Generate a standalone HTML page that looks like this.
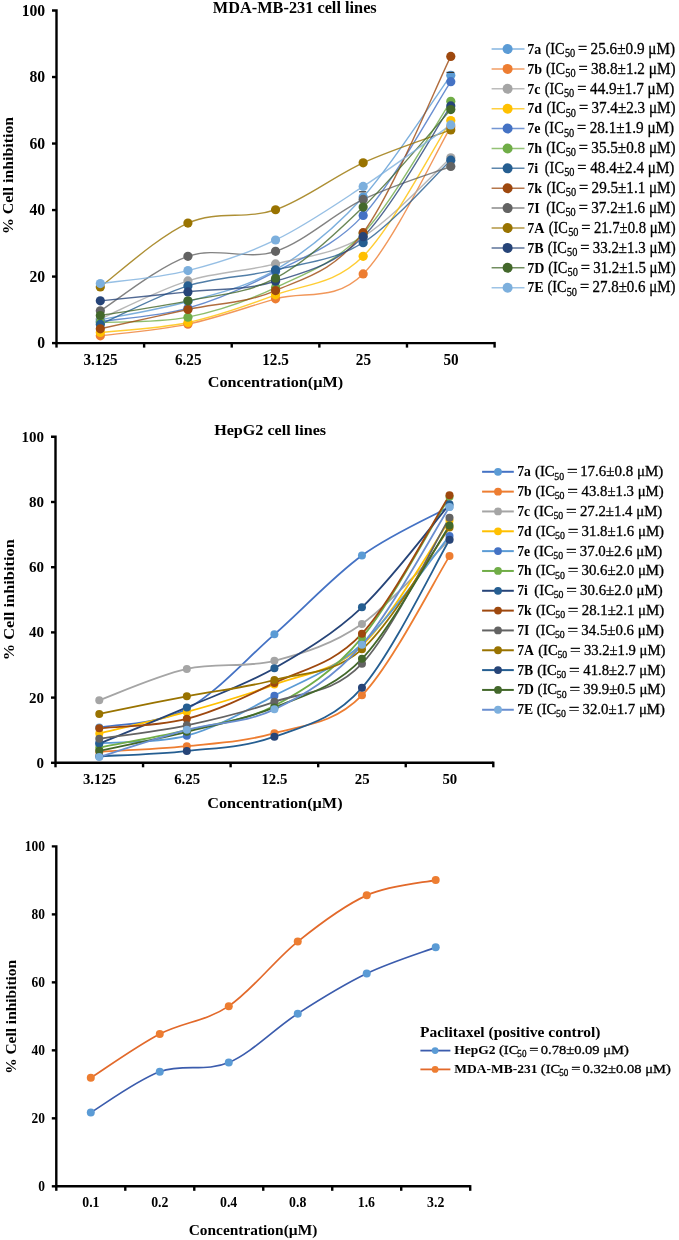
<!DOCTYPE html>
<html><head><meta charset="utf-8"><style>
html,body{margin:0;padding:0;background:#fff;}
body{width:679px;height:1240px;overflow:hidden;}
svg{display:block;will-change:transform;}
text{font-family:"Liberation Serif",serif;fill:#000;}
.b{font-weight:bold;}
.r{font-weight:normal;stroke:#000;stroke-width:0.3px;}
</style></head><body>
<svg width="679" height="1240" viewBox="0 0 679 1240">
<rect width="679" height="1240" fill="#fff"/>
<text transform="translate(212.84,12.60) scale(1.0323,1)" class="b" font-size="15.80">MDA-MB-231 cell lines</text>
<g stroke="#000" stroke-width="2.4" fill="none">
<path d="M52.00,10.50 H56.50 V343.10 H494.60"/>
<path d="M52.00,276.58 H56.50"/>
<path d="M52.00,210.06 H56.50"/>
<path d="M52.00,143.54 H56.50"/>
<path d="M52.00,77.02 H56.50"/>
<path d="M52.00,343.10 H56.50"/>
<path d="M56.50,343.10 V347.60"/>
<path d="M144.12,343.10 V347.60"/>
<path d="M231.74,343.10 V347.60"/>
<path d="M319.36,343.10 V347.60"/>
<path d="M406.98,343.10 V347.60"/>
<path d="M494.60,341.90 V347.60"/>
</g>
<text x="37.35" y="348.30" class="b" font-size="15.70">0</text>
<text x="29.50" y="281.78" class="b" font-size="15.70">20</text>
<text x="29.50" y="215.26" class="b" font-size="15.70">40</text>
<text x="29.50" y="148.74" class="b" font-size="15.70">60</text>
<text x="29.50" y="82.22" class="b" font-size="15.70">80</text>
<text x="21.65" y="15.70" class="b" font-size="15.70">100</text>
<text transform="translate(83.49,364.60) scale(0.9500,1)" class="b" font-size="16.00">3.125</text>
<text transform="translate(174.95,364.60) scale(0.9500,1)" class="b" font-size="16.00">6.25</text>
<text transform="translate(262.22,364.60) scale(0.9500,1)" class="b" font-size="16.00">12.5</text>
<text transform="translate(355.82,364.60) scale(0.9500,1)" class="b" font-size="16.00">25</text>
<text transform="translate(443.47,364.60) scale(0.9500,1)" class="b" font-size="16.00">50</text>
<text transform="translate(207.72,387.40) scale(1.0547,1)" class="b" font-size="15.40">Concentration(µM)</text>
<text transform="translate(13.30,234.12) rotate(-90) scale(1.0387,1)" class="b" font-size="15.30">% Cell inhibition</text>
<path d="M100.31,319.82 C114.91,316.77 158.72,309.84 187.93,301.53 C217.14,293.21 246.34,287.33 275.55,269.93 C304.76,252.52 333.96,229.52 363.17,197.09 C392.38,164.66 436.19,95.65 450.79,75.36" fill="none" stroke="#5B9BD5" stroke-width="1.4" stroke-opacity="0.8"/>
<path d="M100.31,335.78 C114.91,333.84 158.72,330.29 187.93,324.14 C217.14,317.99 246.34,307.23 275.55,298.86 C304.76,290.49 333.96,302.58 363.17,273.92 C392.38,245.26 436.19,151.41 450.79,126.91" fill="none" stroke="#ED7D31" stroke-width="1.4" stroke-opacity="0.8"/>
<path d="M100.31,318.82 C114.91,312.50 158.72,290.05 187.93,280.90 C217.14,271.76 246.34,271.31 275.55,263.94 C304.76,256.57 333.96,254.35 363.17,236.67 C392.38,218.98 436.19,170.98 450.79,157.84" fill="none" stroke="#A5A5A5" stroke-width="1.4" stroke-opacity="0.8"/>
<path d="M100.31,332.46 C114.91,330.79 158.72,328.74 187.93,322.48 C217.14,316.21 246.34,305.90 275.55,294.87 C304.76,283.84 333.96,285.34 363.17,256.29 C392.38,227.24 436.19,143.21 450.79,120.59" fill="none" stroke="#FFC000" stroke-width="1.4" stroke-opacity="0.8"/>
<path d="M100.31,321.48 C114.91,319.26 158.72,316.49 187.93,308.18 C217.14,299.86 246.34,287.06 275.55,271.59 C304.76,256.13 333.96,247.03 363.17,215.38 C392.38,183.73 436.19,103.96 450.79,81.68" fill="none" stroke="#4472C4" stroke-width="1.4" stroke-opacity="0.8"/>
<path d="M100.31,322.48 C114.91,321.59 158.72,322.98 187.93,317.16 C217.14,311.34 246.34,301.53 275.55,287.56 C304.76,273.59 333.96,264.38 363.17,233.34 C392.38,202.30 436.19,123.31 450.79,101.30" fill="none" stroke="#70AD47" stroke-width="1.4" stroke-opacity="0.8"/>
<path d="M100.31,324.47 C114.91,318.04 158.72,294.98 187.93,285.89 C217.14,276.80 246.34,277.13 275.55,269.93 C304.76,262.72 333.96,260.95 363.17,242.65 C392.38,224.36 436.19,173.92 450.79,160.17" fill="none" stroke="#255E91" stroke-width="1.4" stroke-opacity="0.8"/>
<path d="M100.31,328.80 C114.91,325.58 158.72,315.88 187.93,309.51 C217.14,303.13 246.34,303.35 275.55,290.55 C304.76,277.74 333.96,271.70 363.17,232.68 C392.38,193.65 436.19,85.78 450.79,56.40" fill="none" stroke="#9E480E" stroke-width="1.4" stroke-opacity="0.8"/>
<path d="M100.31,310.84 C114.91,301.75 158.72,266.21 187.93,256.29 C217.14,246.37 246.34,260.78 275.55,251.30 C304.76,241.82 333.96,213.55 363.17,199.42 C392.38,185.28 436.19,171.98 450.79,166.49" fill="none" stroke="#636363" stroke-width="1.4" stroke-opacity="0.8"/>
<path d="M100.31,286.89 C114.91,276.25 158.72,235.89 187.93,223.03 C217.14,210.17 246.34,219.76 275.55,209.73 C304.76,199.69 333.96,176.13 363.17,162.83 C392.38,149.53 436.19,135.39 450.79,129.90" fill="none" stroke="#997300" stroke-width="1.4" stroke-opacity="0.8"/>
<path d="M100.31,300.86 C114.91,299.36 158.72,295.15 187.93,291.88 C217.14,288.61 246.34,290.44 275.55,281.24 C304.76,272.03 333.96,265.88 363.17,236.67 C392.38,207.45 436.19,127.74 450.79,105.96" fill="none" stroke="#264478" stroke-width="1.4" stroke-opacity="0.8"/>
<path d="M100.31,315.49 C114.91,313.06 158.72,307.07 187.93,300.86 C217.14,294.65 246.34,293.88 275.55,278.24 C304.76,262.61 333.96,235.17 363.17,207.07 C392.38,178.96 436.19,125.86 450.79,109.61" fill="none" stroke="#43682B" stroke-width="1.4" stroke-opacity="0.8"/>
<path d="M100.31,283.56 C114.91,281.40 158.72,277.85 187.93,270.59 C217.14,263.33 246.34,254.02 275.55,239.99 C304.76,225.97 333.96,205.63 363.17,186.45 C392.38,167.27 436.19,135.17 450.79,124.91" fill="none" stroke="#7CAFDD" stroke-width="1.4" stroke-opacity="0.8"/>
<circle cx="100.31" cy="319.82" r="4.6" fill="#5B9BD5"/>
<circle cx="187.93" cy="301.53" r="4.6" fill="#5B9BD5"/>
<circle cx="275.55" cy="269.93" r="4.6" fill="#5B9BD5"/>
<circle cx="363.17" cy="197.09" r="4.6" fill="#5B9BD5"/>
<circle cx="450.79" cy="75.36" r="4.6" fill="#5B9BD5"/>
<circle cx="100.31" cy="335.78" r="4.6" fill="#ED7D31"/>
<circle cx="187.93" cy="324.14" r="4.6" fill="#ED7D31"/>
<circle cx="275.55" cy="298.86" r="4.6" fill="#ED7D31"/>
<circle cx="363.17" cy="273.92" r="4.6" fill="#ED7D31"/>
<circle cx="450.79" cy="126.91" r="4.6" fill="#ED7D31"/>
<circle cx="100.31" cy="318.82" r="4.6" fill="#A5A5A5"/>
<circle cx="187.93" cy="280.90" r="4.6" fill="#A5A5A5"/>
<circle cx="275.55" cy="263.94" r="4.6" fill="#A5A5A5"/>
<circle cx="363.17" cy="236.67" r="4.6" fill="#A5A5A5"/>
<circle cx="450.79" cy="157.84" r="4.6" fill="#A5A5A5"/>
<circle cx="100.31" cy="332.46" r="4.6" fill="#FFC000"/>
<circle cx="187.93" cy="322.48" r="4.6" fill="#FFC000"/>
<circle cx="275.55" cy="294.87" r="4.6" fill="#FFC000"/>
<circle cx="363.17" cy="256.29" r="4.6" fill="#FFC000"/>
<circle cx="450.79" cy="120.59" r="4.6" fill="#FFC000"/>
<circle cx="100.31" cy="321.48" r="4.6" fill="#4472C4"/>
<circle cx="187.93" cy="308.18" r="4.6" fill="#4472C4"/>
<circle cx="275.55" cy="271.59" r="4.6" fill="#4472C4"/>
<circle cx="363.17" cy="215.38" r="4.6" fill="#4472C4"/>
<circle cx="450.79" cy="81.68" r="4.6" fill="#4472C4"/>
<circle cx="100.31" cy="322.48" r="4.6" fill="#70AD47"/>
<circle cx="187.93" cy="317.16" r="4.6" fill="#70AD47"/>
<circle cx="275.55" cy="287.56" r="4.6" fill="#70AD47"/>
<circle cx="363.17" cy="233.34" r="4.6" fill="#70AD47"/>
<circle cx="450.79" cy="101.30" r="4.6" fill="#70AD47"/>
<circle cx="100.31" cy="324.47" r="4.6" fill="#255E91"/>
<circle cx="187.93" cy="285.89" r="4.6" fill="#255E91"/>
<circle cx="275.55" cy="269.93" r="4.6" fill="#255E91"/>
<circle cx="363.17" cy="242.65" r="4.6" fill="#255E91"/>
<circle cx="450.79" cy="160.17" r="4.6" fill="#255E91"/>
<circle cx="100.31" cy="328.80" r="4.6" fill="#9E480E"/>
<circle cx="187.93" cy="309.51" r="4.6" fill="#9E480E"/>
<circle cx="275.55" cy="290.55" r="4.6" fill="#9E480E"/>
<circle cx="363.17" cy="232.68" r="4.6" fill="#9E480E"/>
<circle cx="450.79" cy="56.40" r="4.6" fill="#9E480E"/>
<circle cx="100.31" cy="310.84" r="4.6" fill="#636363"/>
<circle cx="187.93" cy="256.29" r="4.6" fill="#636363"/>
<circle cx="275.55" cy="251.30" r="4.6" fill="#636363"/>
<circle cx="363.17" cy="199.42" r="4.6" fill="#636363"/>
<circle cx="450.79" cy="166.49" r="4.6" fill="#636363"/>
<circle cx="100.31" cy="286.89" r="4.6" fill="#997300"/>
<circle cx="187.93" cy="223.03" r="4.6" fill="#997300"/>
<circle cx="275.55" cy="209.73" r="4.6" fill="#997300"/>
<circle cx="363.17" cy="162.83" r="4.6" fill="#997300"/>
<circle cx="450.79" cy="129.90" r="4.6" fill="#997300"/>
<circle cx="100.31" cy="300.86" r="4.6" fill="#264478"/>
<circle cx="187.93" cy="291.88" r="4.6" fill="#264478"/>
<circle cx="275.55" cy="281.24" r="4.6" fill="#264478"/>
<circle cx="363.17" cy="236.67" r="4.6" fill="#264478"/>
<circle cx="450.79" cy="105.96" r="4.6" fill="#264478"/>
<circle cx="100.31" cy="315.49" r="4.6" fill="#43682B"/>
<circle cx="187.93" cy="300.86" r="4.6" fill="#43682B"/>
<circle cx="275.55" cy="278.24" r="4.6" fill="#43682B"/>
<circle cx="363.17" cy="207.07" r="4.6" fill="#43682B"/>
<circle cx="450.79" cy="109.61" r="4.6" fill="#43682B"/>
<circle cx="100.31" cy="283.56" r="4.6" fill="#7CAFDD"/>
<circle cx="187.93" cy="270.59" r="4.6" fill="#7CAFDD"/>
<circle cx="275.55" cy="239.99" r="4.6" fill="#7CAFDD"/>
<circle cx="363.17" cy="186.45" r="4.6" fill="#7CAFDD"/>
<circle cx="450.79" cy="124.91" r="4.6" fill="#7CAFDD"/>
<line x1="446.5" y1="72.4" x2="454.2" y2="72.4" stroke="#333" stroke-width="1.2"/>
<line x1="359.1" y1="191.8" x2="366.2" y2="191.8" stroke="#333" stroke-width="1.2"/>
<line x1="491.60" y1="49.00" x2="524.50" y2="49.00" stroke="#5B9BD5" stroke-width="1.5" stroke-opacity="0.75"/>
<circle cx="507.60" cy="49.00" r="5.0" fill="#5B9BD5"/>
<text transform="translate(527.31,53.80) scale(0.9200,1)" class="b" font-size="15.30">7a</text>
<text transform="translate(545.56,53.80) scale(0.9078,1)" class="r" font-size="15.80">(IC</text>
<text transform="translate(564.89,57.00) scale(0.8718,1)" class="r" font-size="11.80">50</text>
<text transform="translate(578.08,53.80) scale(1.0322,1)" class="r" font-size="15.80">=</text>
<text transform="translate(590.62,53.80) scale(0.9627,1)" class="r" font-size="15.80">25.6±0.9 μM)</text>
<line x1="491.60" y1="68.89" x2="524.50" y2="68.89" stroke="#ED7D31" stroke-width="1.5" stroke-opacity="0.75"/>
<circle cx="507.60" cy="68.89" r="5.0" fill="#ED7D31"/>
<text transform="translate(527.31,73.69) scale(0.9200,1)" class="b" font-size="15.30">7b</text>
<text transform="translate(545.98,73.69) scale(0.9078,1)" class="r" font-size="15.80">(IC</text>
<text transform="translate(565.32,76.89) scale(0.8718,1)" class="r" font-size="11.80">50</text>
<text transform="translate(578.50,73.69) scale(1.0322,1)" class="r" font-size="15.80">=</text>
<text transform="translate(590.98,73.69) scale(0.9634,1)" class="r" font-size="15.80">38.8±1.2 μM)</text>
<line x1="491.60" y1="88.78" x2="524.50" y2="88.78" stroke="#A5A5A5" stroke-width="1.5" stroke-opacity="0.75"/>
<circle cx="507.60" cy="88.78" r="5.0" fill="#A5A5A5"/>
<text transform="translate(527.31,93.58) scale(0.9200,1)" class="b" font-size="15.30">7c</text>
<text transform="translate(544.63,93.58) scale(0.9078,1)" class="r" font-size="15.80">(IC</text>
<text transform="translate(563.96,96.78) scale(0.8718,1)" class="r" font-size="11.80">50</text>
<text transform="translate(577.15,93.58) scale(1.0322,1)" class="r" font-size="15.80">=</text>
<text transform="translate(590.06,93.58) scale(0.9585,1)" class="r" font-size="15.80">44.9±1.7 μM)</text>
<line x1="491.60" y1="108.67" x2="524.50" y2="108.67" stroke="#FFC000" stroke-width="1.5" stroke-opacity="0.75"/>
<circle cx="507.60" cy="108.67" r="5.0" fill="#FFC000"/>
<text transform="translate(527.31,113.47) scale(0.9200,1)" class="b" font-size="15.30">7d</text>
<text transform="translate(546.40,113.47) scale(0.9078,1)" class="r" font-size="15.80">(IC</text>
<text transform="translate(565.74,116.67) scale(0.8718,1)" class="r" font-size="11.80">50</text>
<text transform="translate(578.92,113.47) scale(1.0322,1)" class="r" font-size="15.80">=</text>
<text transform="translate(591.41,113.47) scale(0.9595,1)" class="r" font-size="15.80">37.4±2.3 μM)</text>
<line x1="491.60" y1="128.56" x2="524.50" y2="128.56" stroke="#4472C4" stroke-width="1.5" stroke-opacity="0.75"/>
<circle cx="507.60" cy="128.56" r="5.0" fill="#4472C4"/>
<text transform="translate(527.31,133.36) scale(0.9200,1)" class="b" font-size="15.30">7e</text>
<text transform="translate(544.60,133.36) scale(0.9078,1)" class="r" font-size="15.80">(IC</text>
<text transform="translate(563.94,136.56) scale(0.8718,1)" class="r" font-size="11.80">50</text>
<text transform="translate(577.12,133.36) scale(1.0322,1)" class="r" font-size="15.80">=</text>
<text transform="translate(589.66,133.36) scale(0.9627,1)" class="r" font-size="15.80">28.1±1.9 μM)</text>
<line x1="491.60" y1="148.45" x2="524.50" y2="148.45" stroke="#70AD47" stroke-width="1.5" stroke-opacity="0.75"/>
<circle cx="507.60" cy="148.45" r="5.0" fill="#70AD47"/>
<text transform="translate(527.31,153.25) scale(0.9200,1)" class="b" font-size="15.30">7h</text>
<text transform="translate(546.35,153.25) scale(0.9078,1)" class="r" font-size="15.80">(IC</text>
<text transform="translate(565.68,156.45) scale(0.8718,1)" class="r" font-size="11.80">50</text>
<text transform="translate(578.86,153.25) scale(1.0322,1)" class="r" font-size="15.80">=</text>
<text transform="translate(591.35,153.25) scale(0.9601,1)" class="r" font-size="15.80">35.5±0.8 μM)</text>
<line x1="491.60" y1="168.34" x2="524.50" y2="168.34" stroke="#255E91" stroke-width="1.5" stroke-opacity="0.75"/>
<circle cx="507.60" cy="168.34" r="5.0" fill="#255E91"/>
<text transform="translate(527.31,173.14) scale(0.9200,1)" class="b" font-size="15.30">7i</text>
<text transform="translate(544.83,173.14) scale(0.9078,1)" class="r" font-size="15.80">(IC</text>
<text transform="translate(564.17,176.34) scale(0.8718,1)" class="r" font-size="11.80">50</text>
<text transform="translate(577.35,173.14) scale(1.0322,1)" class="r" font-size="15.80">=</text>
<text transform="translate(590.26,173.14) scale(0.9585,1)" class="r" font-size="15.80">48.4±2.4 μM)</text>
<line x1="491.60" y1="188.23" x2="524.50" y2="188.23" stroke="#9E480E" stroke-width="1.5" stroke-opacity="0.75"/>
<circle cx="507.60" cy="188.23" r="5.0" fill="#9E480E"/>
<text transform="translate(527.31,193.03) scale(0.9200,1)" class="b" font-size="15.30">7k</text>
<text transform="translate(546.52,193.03) scale(0.9078,1)" class="r" font-size="15.80">(IC</text>
<text transform="translate(565.85,196.23) scale(0.8718,1)" class="r" font-size="11.80">50</text>
<text transform="translate(579.03,193.03) scale(1.0322,1)" class="r" font-size="15.80">=</text>
<text transform="translate(591.58,193.03) scale(0.9575,1)" class="r" font-size="15.80">29.5±1.1 μM)</text>
<line x1="491.60" y1="208.12" x2="524.50" y2="208.12" stroke="#636363" stroke-width="1.5" stroke-opacity="0.75"/>
<circle cx="507.60" cy="208.12" r="5.0" fill="#636363"/>
<text transform="translate(527.31,212.92) scale(0.9200,1)" class="b" font-size="15.30">7I</text>
<text transform="translate(546.13,212.92) scale(0.9078,1)" class="r" font-size="15.80">(IC</text>
<text transform="translate(565.46,216.12) scale(0.8718,1)" class="r" font-size="11.80">50</text>
<text transform="translate(578.65,212.92) scale(1.0322,1)" class="r" font-size="15.80">=</text>
<text transform="translate(591.13,212.92) scale(0.9627,1)" class="r" font-size="15.80">37.2±1.6 μM)</text>
<line x1="491.60" y1="228.01" x2="524.50" y2="228.01" stroke="#997300" stroke-width="1.5" stroke-opacity="0.75"/>
<circle cx="507.60" cy="228.01" r="5.0" fill="#997300"/>
<text transform="translate(527.31,232.81) scale(0.9200,1)" class="b" font-size="15.30">7A</text>
<text transform="translate(548.80,232.81) scale(0.9078,1)" class="r" font-size="15.80">(IC</text>
<text transform="translate(568.13,236.01) scale(0.8718,1)" class="r" font-size="11.80">50</text>
<text transform="translate(581.31,232.81) scale(1.0322,1)" class="r" font-size="15.80">=</text>
<text transform="translate(593.88,232.81) scale(0.9311,1)" class="r" font-size="15.80">21.7±0.8 μM)</text>
<line x1="491.60" y1="247.90" x2="524.50" y2="247.90" stroke="#264478" stroke-width="1.5" stroke-opacity="0.75"/>
<circle cx="507.60" cy="247.90" r="5.0" fill="#264478"/>
<text transform="translate(527.31,252.70) scale(0.9200,1)" class="b" font-size="15.30">7B</text>
<text transform="translate(547.73,252.70) scale(0.9078,1)" class="r" font-size="15.80">(IC</text>
<text transform="translate(567.06,255.90) scale(0.8718,1)" class="r" font-size="11.80">50</text>
<text transform="translate(580.24,252.70) scale(1.0322,1)" class="r" font-size="15.80">=</text>
<text transform="translate(592.74,252.70) scale(0.9442,1)" class="r" font-size="15.80">33.2±1.3 μM)</text>
<line x1="491.60" y1="267.79" x2="524.50" y2="267.79" stroke="#43682B" stroke-width="1.5" stroke-opacity="0.75"/>
<circle cx="507.60" cy="267.79" r="5.0" fill="#43682B"/>
<text transform="translate(527.31,272.59) scale(0.9200,1)" class="b" font-size="15.30">7D</text>
<text transform="translate(548.21,272.59) scale(0.9078,1)" class="r" font-size="15.80">(IC</text>
<text transform="translate(567.54,275.79) scale(0.8718,1)" class="r" font-size="11.80">50</text>
<text transform="translate(580.72,272.59) scale(1.0322,1)" class="r" font-size="15.80">=</text>
<text transform="translate(593.23,272.59) scale(0.9386,1)" class="r" font-size="15.80">31.2±1.5 μM)</text>
<line x1="491.60" y1="287.68" x2="524.50" y2="287.68" stroke="#7CAFDD" stroke-width="1.5" stroke-opacity="0.75"/>
<circle cx="507.60" cy="287.68" r="5.0" fill="#7CAFDD"/>
<text transform="translate(527.31,292.48) scale(0.9200,1)" class="b" font-size="15.30">7E</text>
<text transform="translate(547.39,292.48) scale(0.9078,1)" class="r" font-size="15.80">(IC</text>
<text transform="translate(566.72,295.68) scale(0.8718,1)" class="r" font-size="11.80">50</text>
<text transform="translate(579.91,292.48) scale(1.0322,1)" class="r" font-size="15.80">=</text>
<text transform="translate(592.46,292.48) scale(0.9474,1)" class="r" font-size="15.80">27.8±0.6 μM)</text>
<text transform="translate(214.14,434.60) scale(1.0906,1)" class="b" font-size="14.80">HepG2 cell lines</text>
<g stroke="#000" stroke-width="2.4" fill="none">
<path d="M51.00,436.80 H55.50 V762.80 H493.30"/>
<path d="M51.00,697.60 H55.50"/>
<path d="M51.00,632.40 H55.50"/>
<path d="M51.00,567.20 H55.50"/>
<path d="M51.00,502.00 H55.50"/>
<path d="M51.00,762.80 H55.50"/>
<path d="M55.50,762.80 V767.30"/>
<path d="M143.06,762.80 V767.30"/>
<path d="M230.62,762.80 V767.30"/>
<path d="M318.18,762.80 V767.30"/>
<path d="M405.74,762.80 V767.30"/>
<path d="M493.30,761.60 V767.30"/>
</g>
<text x="36.57" y="767.80" class="b" font-size="15.00">0</text>
<text x="29.07" y="702.60" class="b" font-size="15.00">20</text>
<text x="29.07" y="637.40" class="b" font-size="15.00">40</text>
<text x="29.07" y="572.20" class="b" font-size="15.00">60</text>
<text x="29.07" y="507.00" class="b" font-size="15.00">80</text>
<text x="21.57" y="441.80" class="b" font-size="15.00">100</text>
<text x="82.92" y="784.30" class="b" font-size="14.80">3.125</text>
<text x="174.20" y="784.30" class="b" font-size="14.80">6.25</text>
<text x="261.42" y="784.30" class="b" font-size="14.80">12.5</text>
<text x="354.82" y="784.30" class="b" font-size="14.80">25</text>
<text x="442.41" y="784.30" class="b" font-size="14.80">50</text>
<text transform="translate(207.22,808.00) scale(1.0601,1)" class="b" font-size="15.30">Concentration(µM)</text>
<text transform="translate(13.50,660.37) rotate(-90) scale(1.0720,1)" class="b" font-size="15.30">% Cell inhibition</text>
<path d="M99.28,727.59 C113.87,724.50 157.65,724.55 186.84,709.01 C216.03,693.47 245.21,659.95 274.40,634.36 C303.59,608.76 332.77,576.71 361.96,555.46 C391.15,534.22 434.93,514.99 449.52,506.89" fill="none" stroke="#4472C4" stroke-width="1.8" stroke-opacity="1"/>
<path d="M99.28,751.72 C113.87,750.79 157.65,749.27 186.84,746.17 C216.03,743.08 245.21,741.61 274.40,733.13 C303.59,724.66 332.77,724.82 361.96,695.32 C391.15,665.81 434.93,579.32 449.52,556.12" fill="none" stroke="#ED7D31" stroke-width="1.8" stroke-opacity="1"/>
<path d="M99.28,700.21 C113.87,694.99 157.65,675.49 186.84,668.91 C216.03,662.34 245.21,668.26 274.40,660.76 C303.59,653.26 332.77,644.14 361.96,623.92 C391.15,603.71 434.93,553.56 449.52,539.49" fill="none" stroke="#A5A5A5" stroke-width="1.8" stroke-opacity="1"/>
<path d="M99.28,733.46 C113.87,729.87 157.65,720.09 186.84,711.94 C216.03,703.79 245.21,695.64 274.40,684.56 C303.59,673.48 332.77,672.77 361.96,645.44 C391.15,618.11 434.93,541.39 449.52,520.58" fill="none" stroke="#FFC000" stroke-width="1.8" stroke-opacity="1"/>
<path d="M99.28,743.24 C113.87,741.99 157.65,743.67 186.84,735.74 C216.03,727.81 245.21,710.97 274.40,695.64 C303.59,680.32 332.77,670.43 361.96,643.81 C391.15,617.19 434.93,553.89 449.52,535.90" fill="none" stroke="#5B9BD5" stroke-width="1.8" stroke-opacity="1"/>
<path d="M99.28,747.48 C113.87,744.60 157.65,737.15 186.84,730.20 C216.03,723.25 245.21,721.18 274.40,705.75 C303.59,690.32 332.77,672.44 361.96,637.62 C391.15,602.79 434.93,520.26 449.52,496.78" fill="none" stroke="#70AD47" stroke-width="1.8" stroke-opacity="1"/>
<path d="M99.28,743.57 C113.87,737.53 157.65,719.93 186.84,707.38 C216.03,694.83 245.21,684.94 274.40,668.26 C303.59,651.58 332.77,634.63 361.96,607.30 C391.15,579.97 434.93,521.45 449.52,504.28" fill="none" stroke="#264478" stroke-width="1.8" stroke-opacity="1"/>
<path d="M99.28,728.24 C113.87,726.67 157.65,726.34 186.84,718.79 C216.03,711.24 245.21,697.11 274.40,682.93 C303.59,668.75 332.77,665.00 361.96,633.70 C391.15,602.41 434.93,518.25 449.52,495.15" fill="none" stroke="#9E480E" stroke-width="1.8" stroke-opacity="1"/>
<path d="M99.28,738.68 C113.87,736.45 157.65,731.45 186.84,725.31 C216.03,719.17 245.21,712.11 274.40,701.84 C303.59,691.57 332.77,694.39 361.96,663.70 C391.15,633.00 434.93,541.99 449.52,517.65" fill="none" stroke="#636363" stroke-width="1.8" stroke-opacity="1"/>
<path d="M99.28,713.90 C113.87,710.97 157.65,701.95 186.84,696.30 C216.03,690.65 245.21,687.82 274.40,680.00 C303.59,672.17 332.77,674.78 361.96,649.35 C391.15,623.92 434.93,547.75 449.52,527.43" fill="none" stroke="#997300" stroke-width="1.8" stroke-opacity="1"/>
<path d="M99.28,756.28 C113.87,755.41 157.65,754.32 186.84,751.06 C216.03,747.80 245.21,747.26 274.40,736.72 C303.59,726.18 332.77,720.64 361.96,687.82 C391.15,655.00 434.93,564.48 449.52,539.82" fill="none" stroke="#255E91" stroke-width="1.8" stroke-opacity="1"/>
<path d="M99.28,750.74 C113.87,747.59 157.65,739.06 186.84,731.83 C216.03,724.60 245.21,719.55 274.40,707.38 C303.59,695.21 332.77,689.12 361.96,658.81 C391.15,628.49 434.93,547.69 449.52,525.47" fill="none" stroke="#43682B" stroke-width="1.8" stroke-opacity="1"/>
<path d="M99.28,756.93 C113.87,752.42 157.65,737.81 186.84,729.87 C216.03,721.94 245.21,723.52 274.40,709.34 C303.59,695.15 332.77,678.53 361.96,644.79 C391.15,611.05 434.93,529.87 449.52,506.89" fill="none" stroke="#698ED0" stroke-width="1.8" stroke-opacity="1"/>
<circle cx="99.28" cy="727.59" r="4.0" fill="#5B9BD5"/>
<circle cx="186.84" cy="709.01" r="4.0" fill="#5B9BD5"/>
<circle cx="274.40" cy="634.36" r="4.0" fill="#5B9BD5"/>
<circle cx="361.96" cy="555.46" r="4.0" fill="#5B9BD5"/>
<circle cx="449.52" cy="506.89" r="4.0" fill="#5B9BD5"/>
<circle cx="99.28" cy="751.72" r="4.0" fill="#ED7D31"/>
<circle cx="186.84" cy="746.17" r="4.0" fill="#ED7D31"/>
<circle cx="274.40" cy="733.13" r="4.0" fill="#ED7D31"/>
<circle cx="361.96" cy="695.32" r="4.0" fill="#ED7D31"/>
<circle cx="449.52" cy="556.12" r="4.0" fill="#ED7D31"/>
<circle cx="99.28" cy="700.21" r="4.0" fill="#A5A5A5"/>
<circle cx="186.84" cy="668.91" r="4.0" fill="#A5A5A5"/>
<circle cx="274.40" cy="660.76" r="4.0" fill="#A5A5A5"/>
<circle cx="361.96" cy="623.92" r="4.0" fill="#A5A5A5"/>
<circle cx="449.52" cy="539.49" r="4.0" fill="#A5A5A5"/>
<circle cx="99.28" cy="733.46" r="4.0" fill="#FFC000"/>
<circle cx="186.84" cy="711.94" r="4.0" fill="#FFC000"/>
<circle cx="274.40" cy="684.56" r="4.0" fill="#FFC000"/>
<circle cx="361.96" cy="645.44" r="4.0" fill="#FFC000"/>
<circle cx="449.52" cy="520.58" r="4.0" fill="#FFC000"/>
<circle cx="99.28" cy="743.24" r="4.0" fill="#4472C4"/>
<circle cx="186.84" cy="735.74" r="4.0" fill="#4472C4"/>
<circle cx="274.40" cy="695.64" r="4.0" fill="#4472C4"/>
<circle cx="361.96" cy="643.81" r="4.0" fill="#4472C4"/>
<circle cx="449.52" cy="535.90" r="4.0" fill="#4472C4"/>
<circle cx="99.28" cy="747.48" r="4.0" fill="#70AD47"/>
<circle cx="186.84" cy="730.20" r="4.0" fill="#70AD47"/>
<circle cx="274.40" cy="705.75" r="4.0" fill="#70AD47"/>
<circle cx="361.96" cy="637.62" r="4.0" fill="#70AD47"/>
<circle cx="449.52" cy="496.78" r="4.0" fill="#70AD47"/>
<circle cx="99.28" cy="743.57" r="4.0" fill="#255E91"/>
<circle cx="186.84" cy="707.38" r="4.0" fill="#255E91"/>
<circle cx="274.40" cy="668.26" r="4.0" fill="#255E91"/>
<circle cx="361.96" cy="607.30" r="4.0" fill="#255E91"/>
<circle cx="449.52" cy="504.28" r="4.0" fill="#255E91"/>
<circle cx="99.28" cy="728.24" r="4.0" fill="#9E480E"/>
<circle cx="186.84" cy="718.79" r="4.0" fill="#9E480E"/>
<circle cx="274.40" cy="682.93" r="4.0" fill="#9E480E"/>
<circle cx="361.96" cy="633.70" r="4.0" fill="#9E480E"/>
<circle cx="449.52" cy="495.15" r="4.0" fill="#9E480E"/>
<circle cx="99.28" cy="738.68" r="4.0" fill="#636363"/>
<circle cx="186.84" cy="725.31" r="4.0" fill="#636363"/>
<circle cx="274.40" cy="701.84" r="4.0" fill="#636363"/>
<circle cx="361.96" cy="663.70" r="4.0" fill="#636363"/>
<circle cx="449.52" cy="517.65" r="4.0" fill="#636363"/>
<circle cx="99.28" cy="713.90" r="4.0" fill="#997300"/>
<circle cx="186.84" cy="696.30" r="4.0" fill="#997300"/>
<circle cx="274.40" cy="680.00" r="4.0" fill="#997300"/>
<circle cx="361.96" cy="649.35" r="4.0" fill="#997300"/>
<circle cx="449.52" cy="527.43" r="4.0" fill="#997300"/>
<circle cx="99.28" cy="756.28" r="4.0" fill="#264478"/>
<circle cx="186.84" cy="751.06" r="4.0" fill="#264478"/>
<circle cx="274.40" cy="736.72" r="4.0" fill="#264478"/>
<circle cx="361.96" cy="687.82" r="4.0" fill="#264478"/>
<circle cx="449.52" cy="539.82" r="4.0" fill="#264478"/>
<circle cx="99.28" cy="750.74" r="4.0" fill="#43682B"/>
<circle cx="186.84" cy="731.83" r="4.0" fill="#43682B"/>
<circle cx="274.40" cy="707.38" r="4.0" fill="#43682B"/>
<circle cx="361.96" cy="658.81" r="4.0" fill="#43682B"/>
<circle cx="449.52" cy="525.47" r="4.0" fill="#43682B"/>
<circle cx="99.28" cy="756.93" r="4.0" fill="#7CAFDD"/>
<circle cx="186.84" cy="729.87" r="4.0" fill="#7CAFDD"/>
<circle cx="274.40" cy="709.34" r="4.0" fill="#7CAFDD"/>
<circle cx="361.96" cy="644.79" r="4.0" fill="#7CAFDD"/>
<circle cx="449.52" cy="506.89" r="4.0" fill="#7CAFDD"/>
<line x1="482.10" y1="471.80" x2="513.80" y2="471.80" stroke="#4472C4" stroke-width="2" stroke-opacity="1"/>
<circle cx="498.00" cy="471.80" r="3.9" fill="#5B9BD5"/>
<text transform="translate(517.23,476.30) scale(0.9800,1)" class="b" font-size="14.00">7a</text>
<text transform="translate(535.01,476.30) scale(1.0477,1)" class="r" font-size="14.00">(IC</text>
<text transform="translate(554.29,479.50) scale(0.8950,1)" class="r" font-size="11.00">50</text>
<text transform="translate(566.92,476.30) scale(1.3489,1)" class="r" font-size="14.00">=</text>
<text transform="translate(580.14,476.30) scale(1.0689,1)" class="r" font-size="14.00">17.6±0.8 μM)</text>
<line x1="482.10" y1="491.63" x2="513.80" y2="491.63" stroke="#ED7D31" stroke-width="2" stroke-opacity="1"/>
<circle cx="498.00" cy="491.63" r="3.9" fill="#ED7D31"/>
<text transform="translate(517.23,496.13) scale(0.9800,1)" class="b" font-size="14.00">7b</text>
<text transform="translate(535.43,496.13) scale(1.0477,1)" class="r" font-size="14.00">(IC</text>
<text transform="translate(554.70,499.33) scale(0.8950,1)" class="r" font-size="11.00">50</text>
<text transform="translate(567.33,496.13) scale(1.3489,1)" class="r" font-size="14.00">=</text>
<text transform="translate(581.58,496.13) scale(1.0557,1)" class="r" font-size="14.00">43.8±1.3 μM)</text>
<line x1="482.10" y1="511.46" x2="513.80" y2="511.46" stroke="#A5A5A5" stroke-width="2" stroke-opacity="1"/>
<circle cx="498.00" cy="511.46" r="3.9" fill="#A5A5A5"/>
<text transform="translate(517.23,515.96) scale(0.9800,1)" class="b" font-size="14.00">7c</text>
<text transform="translate(534.11,515.96) scale(1.0477,1)" class="r" font-size="14.00">(IC</text>
<text transform="translate(553.38,519.16) scale(0.8950,1)" class="r" font-size="11.00">50</text>
<text transform="translate(566.01,515.96) scale(1.3489,1)" class="r" font-size="14.00">=</text>
<text transform="translate(579.90,515.96) scale(1.0603,1)" class="r" font-size="14.00">27.2±1.4 μM)</text>
<line x1="482.10" y1="531.29" x2="513.80" y2="531.29" stroke="#FFC000" stroke-width="2" stroke-opacity="1"/>
<circle cx="498.00" cy="531.29" r="3.9" fill="#FFC000"/>
<text transform="translate(517.23,535.79) scale(0.9800,1)" class="b" font-size="14.00">7d</text>
<text transform="translate(535.84,535.79) scale(1.0477,1)" class="r" font-size="14.00">(IC</text>
<text transform="translate(555.11,538.99) scale(0.8950,1)" class="r" font-size="11.00">50</text>
<text transform="translate(567.74,535.79) scale(1.3489,1)" class="r" font-size="14.00">=</text>
<text transform="translate(581.57,535.79) scale(1.0611,1)" class="r" font-size="14.00">31.8±1.6 μM)</text>
<line x1="482.10" y1="551.12" x2="513.80" y2="551.12" stroke="#5B9BD5" stroke-width="2" stroke-opacity="1"/>
<circle cx="498.00" cy="551.12" r="3.9" fill="#4472C4"/>
<text transform="translate(517.23,555.62) scale(0.9800,1)" class="b" font-size="14.00">7e</text>
<text transform="translate(534.08,555.62) scale(1.0477,1)" class="r" font-size="14.00">(IC</text>
<text transform="translate(553.36,558.82) scale(0.8950,1)" class="r" font-size="11.00">50</text>
<text transform="translate(565.98,555.62) scale(1.3489,1)" class="r" font-size="14.00">=</text>
<text transform="translate(579.81,555.62) scale(1.0611,1)" class="r" font-size="14.00">37.0±2.6 μM)</text>
<line x1="482.10" y1="570.95" x2="513.80" y2="570.95" stroke="#70AD47" stroke-width="2" stroke-opacity="1"/>
<circle cx="498.00" cy="570.95" r="3.9" fill="#70AD47"/>
<text transform="translate(517.23,575.45) scale(0.9800,1)" class="b" font-size="14.00">7h</text>
<text transform="translate(535.78,575.45) scale(1.0477,1)" class="r" font-size="14.00">(IC</text>
<text transform="translate(555.06,578.65) scale(0.8950,1)" class="r" font-size="11.00">50</text>
<text transform="translate(567.68,575.45) scale(1.3489,1)" class="r" font-size="14.00">=</text>
<text transform="translate(581.51,575.45) scale(1.0611,1)" class="r" font-size="14.00">30.6±2.0 μM)</text>
<line x1="482.10" y1="590.78" x2="513.80" y2="590.78" stroke="#264478" stroke-width="2" stroke-opacity="1"/>
<circle cx="498.00" cy="590.78" r="3.9" fill="#255E91"/>
<text transform="translate(517.23,595.28) scale(0.9800,1)" class="b" font-size="14.00">7i</text>
<text transform="translate(534.37,595.28) scale(1.0477,1)" class="r" font-size="14.00">(IC</text>
<text transform="translate(553.64,598.48) scale(0.8950,1)" class="r" font-size="11.00">50</text>
<text transform="translate(566.27,595.28) scale(1.3489,1)" class="r" font-size="14.00">=</text>
<text transform="translate(580.10,595.28) scale(1.0611,1)" class="r" font-size="14.00">30.6±2.0 μM)</text>
<line x1="482.10" y1="610.61" x2="513.80" y2="610.61" stroke="#9E480E" stroke-width="2" stroke-opacity="1"/>
<circle cx="498.00" cy="610.61" r="3.9" fill="#9E480E"/>
<text transform="translate(517.23,615.11) scale(0.9800,1)" class="b" font-size="14.00">7k</text>
<text transform="translate(535.95,615.11) scale(1.0477,1)" class="r" font-size="14.00">(IC</text>
<text transform="translate(555.22,618.31) scale(0.8950,1)" class="r" font-size="11.00">50</text>
<text transform="translate(567.85,615.11) scale(1.3489,1)" class="r" font-size="14.00">=</text>
<text transform="translate(581.74,615.11) scale(1.0603,1)" class="r" font-size="14.00">28.1±2.1 μM)</text>
<line x1="482.10" y1="630.44" x2="513.80" y2="630.44" stroke="#636363" stroke-width="2" stroke-opacity="1"/>
<circle cx="498.00" cy="630.44" r="3.9" fill="#636363"/>
<text transform="translate(517.23,634.94) scale(0.9800,1)" class="b" font-size="14.00">7I</text>
<text transform="translate(535.63,634.94) scale(1.0477,1)" class="r" font-size="14.00">(IC</text>
<text transform="translate(554.90,638.14) scale(0.8950,1)" class="r" font-size="11.00">50</text>
<text transform="translate(567.53,634.94) scale(1.3489,1)" class="r" font-size="14.00">=</text>
<text transform="translate(581.36,634.94) scale(1.0611,1)" class="r" font-size="14.00">34.5±0.6 μM)</text>
<line x1="482.10" y1="650.27" x2="513.80" y2="650.27" stroke="#997300" stroke-width="2" stroke-opacity="1"/>
<circle cx="498.00" cy="650.27" r="3.9" fill="#997300"/>
<text transform="translate(517.23,654.77) scale(0.9800,1)" class="b" font-size="14.00">7A</text>
<text transform="translate(538.17,654.77) scale(1.0477,1)" class="r" font-size="14.00">(IC</text>
<text transform="translate(557.44,657.97) scale(0.8950,1)" class="r" font-size="11.00">50</text>
<text transform="translate(570.07,654.77) scale(1.3489,1)" class="r" font-size="14.00">=</text>
<text transform="translate(583.91,654.77) scale(1.0478,1)" class="r" font-size="14.00">33.2±1.9 μM)</text>
<line x1="482.10" y1="670.10" x2="513.80" y2="670.10" stroke="#255E91" stroke-width="2" stroke-opacity="1"/>
<circle cx="498.00" cy="670.10" r="3.9" fill="#264478"/>
<text transform="translate(517.23,674.60) scale(0.9800,1)" class="b" font-size="14.00">7B</text>
<text transform="translate(537.13,674.60) scale(1.0477,1)" class="r" font-size="14.00">(IC</text>
<text transform="translate(556.40,677.80) scale(0.8950,1)" class="r" font-size="11.00">50</text>
<text transform="translate(569.03,674.60) scale(1.3489,1)" class="r" font-size="14.00">=</text>
<text transform="translate(583.28,674.60) scale(1.0557,1)" class="r" font-size="14.00">41.8±2.7 μM)</text>
<line x1="482.10" y1="689.93" x2="513.80" y2="689.93" stroke="#43682B" stroke-width="2" stroke-opacity="1"/>
<circle cx="498.00" cy="689.93" r="3.9" fill="#43682B"/>
<text transform="translate(517.23,694.43) scale(0.9800,1)" class="b" font-size="14.00">7D</text>
<text transform="translate(537.59,694.43) scale(1.0477,1)" class="r" font-size="14.00">(IC</text>
<text transform="translate(556.87,697.63) scale(0.8950,1)" class="r" font-size="11.00">50</text>
<text transform="translate(569.49,694.43) scale(1.3489,1)" class="r" font-size="14.00">=</text>
<text transform="translate(583.33,694.43) scale(1.0554,1)" class="r" font-size="14.00">39.9±0.5 μM)</text>
<line x1="482.10" y1="709.76" x2="513.80" y2="709.76" stroke="#698ED0" stroke-width="2" stroke-opacity="1"/>
<circle cx="498.00" cy="709.76" r="3.9" fill="#7CAFDD"/>
<text transform="translate(517.23,714.26) scale(0.9800,1)" class="b" font-size="14.00">7E</text>
<text transform="translate(536.80,714.26) scale(1.0477,1)" class="r" font-size="14.00">(IC</text>
<text transform="translate(556.07,717.46) scale(0.8950,1)" class="r" font-size="11.00">50</text>
<text transform="translate(568.70,714.26) scale(1.3489,1)" class="r" font-size="14.00">=</text>
<text transform="translate(582.53,714.26) scale(1.0611,1)" class="r" font-size="14.00">32.0±1.7 μM)</text>
<g stroke="#000" stroke-width="2.4" fill="none">
<path d="M51.80,846.40 H56.30 V1186.30 H470.20"/>
<path d="M51.80,1118.32 H56.30"/>
<path d="M51.80,1050.34 H56.30"/>
<path d="M51.80,982.36 H56.30"/>
<path d="M51.80,914.38 H56.30"/>
<path d="M51.80,1186.30 H56.30"/>
<path d="M56.30,1186.30 V1190.80"/>
<path d="M125.28,1186.30 V1190.80"/>
<path d="M194.27,1186.30 V1190.80"/>
<path d="M263.25,1186.30 V1190.80"/>
<path d="M332.23,1186.30 V1190.80"/>
<path d="M401.22,1186.30 V1190.80"/>
<path d="M470.20,1185.10 V1190.80"/>
</g>
<text transform="translate(38.19,1190.90) scale(0.9600,1)" class="b" font-size="14.00">0</text>
<text transform="translate(31.47,1122.92) scale(0.9600,1)" class="b" font-size="14.00">20</text>
<text transform="translate(31.47,1054.94) scale(0.9600,1)" class="b" font-size="14.00">40</text>
<text transform="translate(31.47,986.96) scale(0.9600,1)" class="b" font-size="14.00">60</text>
<text transform="translate(31.47,918.98) scale(0.9600,1)" class="b" font-size="14.00">80</text>
<text transform="translate(24.75,851.00) scale(0.9600,1)" class="b" font-size="14.00">100</text>
<text x="82.26" y="1206.90" class="b" font-size="13.80">0.1</text>
<text x="151.18" y="1206.90" class="b" font-size="13.80">0.2</text>
<text x="220.00" y="1206.90" class="b" font-size="13.80">0.4</text>
<text x="289.08" y="1206.90" class="b" font-size="13.80">0.8</text>
<text x="357.76" y="1206.90" class="b" font-size="13.80">1.6</text>
<text x="427.11" y="1206.90" class="b" font-size="13.80">3.2</text>
<text transform="translate(188.66,1234.70) scale(1.0775,1)" class="b" font-size="14.30">Concentration(µM)</text>
<text transform="translate(16.10,1073.87) rotate(-90) scale(1.0647,1)" class="b" font-size="14.50">% Cell inhibition</text>
<path d="M90.79,1112.54 C102.29,1105.74 136.78,1080.08 159.77,1071.75 C182.77,1063.43 205.76,1072.26 228.76,1062.58 C251.75,1052.89 274.75,1028.47 297.74,1013.63 C320.74,998.79 343.73,984.57 366.73,973.52 C389.72,962.48 424.21,951.71 435.71,947.35" fill="none" stroke="#3B5CAD" stroke-width="1.7" stroke-opacity="1"/>
<path d="M90.79,1077.87 C102.29,1070.56 136.78,1045.98 159.77,1034.02 C182.77,1022.07 205.76,1021.56 228.76,1006.15 C251.75,990.74 274.75,960.04 297.74,941.57 C320.74,923.10 343.73,905.60 366.73,895.35 C389.72,885.09 424.21,882.60 435.71,880.05" fill="none" stroke="#E2692A" stroke-width="1.7" stroke-opacity="1"/>
<circle cx="90.79" cy="1112.54" r="4.0" fill="#5B9BD5"/>
<circle cx="159.77" cy="1071.75" r="4.0" fill="#5B9BD5"/>
<circle cx="228.76" cy="1062.58" r="4.0" fill="#5B9BD5"/>
<circle cx="297.74" cy="1013.63" r="4.0" fill="#5B9BD5"/>
<circle cx="366.73" cy="973.52" r="4.0" fill="#5B9BD5"/>
<circle cx="435.71" cy="947.35" r="4.0" fill="#5B9BD5"/>
<circle cx="90.79" cy="1077.87" r="4.0" fill="#ED7D31"/>
<circle cx="159.77" cy="1034.02" r="4.0" fill="#ED7D31"/>
<circle cx="228.76" cy="1006.15" r="4.0" fill="#ED7D31"/>
<circle cx="297.74" cy="941.57" r="4.0" fill="#ED7D31"/>
<circle cx="366.73" cy="895.35" r="4.0" fill="#ED7D31"/>
<circle cx="435.71" cy="880.05" r="4.0" fill="#ED7D31"/>
<text transform="translate(420.05,1036.70) scale(1.0697,1)" class="b" font-size="14.50">Paclitaxel (positive control)</text>
<line x1="420.40" y1="1050.60" x2="450.40" y2="1050.60" stroke="#3B5CAD" stroke-width="1.8" stroke-opacity="1"/>
<circle cx="435.10" cy="1050.60" r="3.4" fill="#5B9BD5"/>
<text x="454.18" y="1054.30" class="b" font-size="13.50">HepG2</text>
<text transform="translate(498.93,1054.30) scale(1.1221,1)" class="r" font-size="13.00">(IC</text>
<text transform="translate(517.35,1057.30) scale(0.8639,1)" class="r" font-size="10.50">50</text>
<text transform="translate(529.36,1054.30) scale(1.2545,1)" class="r" font-size="13.00">=</text>
<text transform="translate(540.72,1054.30) scale(1.1199,1)" class="r" font-size="13.00">0.78±0.09 μM)</text>
<line x1="420.40" y1="1069.40" x2="450.40" y2="1069.40" stroke="#E2692A" stroke-width="1.8" stroke-opacity="1"/>
<circle cx="435.10" cy="1069.40" r="3.4" fill="#ED7D31"/>
<text x="454.18" y="1073.10" class="b" font-size="13.50">MDA-MB-231</text>
<text transform="translate(540.78,1073.10) scale(1.1221,1)" class="r" font-size="13.00">(IC</text>
<text transform="translate(559.20,1076.10) scale(0.8639,1)" class="r" font-size="10.50">50</text>
<text transform="translate(571.21,1073.10) scale(1.2545,1)" class="r" font-size="13.00">=</text>
<text transform="translate(582.57,1073.10) scale(1.1199,1)" class="r" font-size="13.00">0.32±0.08 μM)</text>
</svg>
</body></html>
